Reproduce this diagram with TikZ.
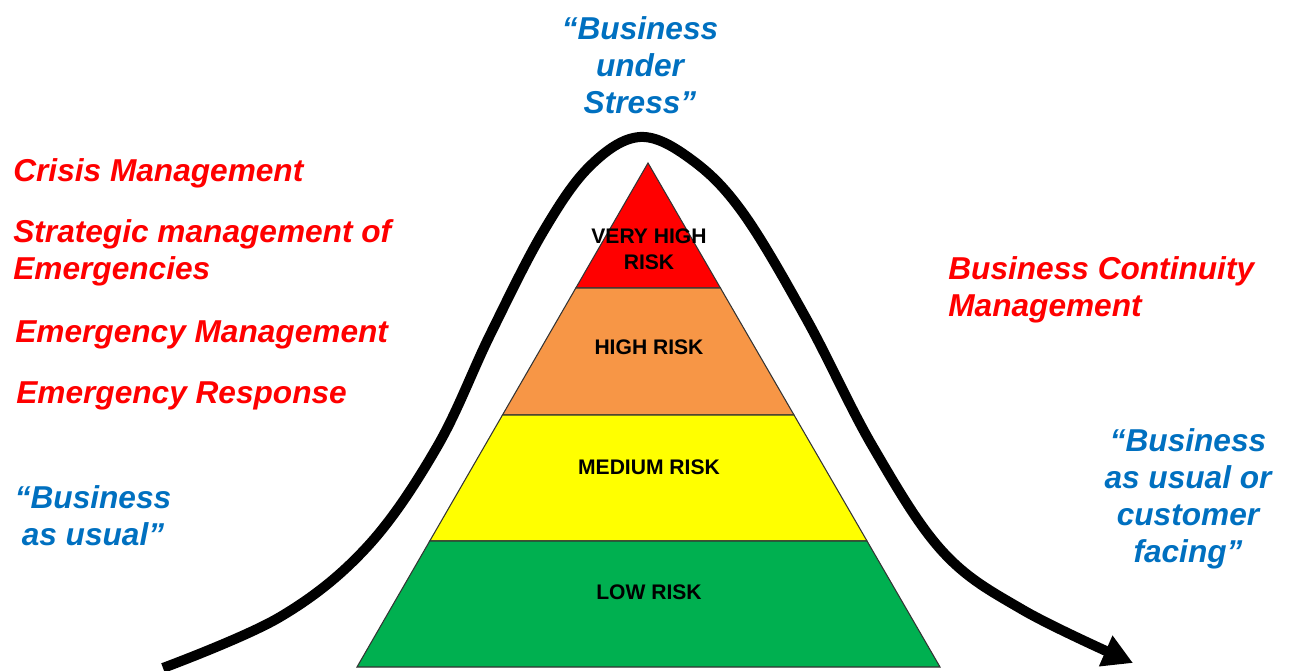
\documentclass[tikz,border=0pt]{standalone}
\usepackage{fontspec}
\setmainfont{Liberation Sans}
\usetikzlibrary{arrows.meta}
\definecolor{riskred}{HTML}{FF0000}
\definecolor{riskorange}{HTML}{F79646}
\definecolor{riskyellow}{HTML}{FFFF00}
\definecolor{riskgreen}{HTML}{00B050}
\definecolor{stressblue}{HTML}{0070C0}
\tikzset{
	redtext/.style={text=riskred,inner sep=0pt,align=left,font=\fontsize{18}{21}\selectfont\bfseries\itshape},
	bluetext/.style={text=stressblue,inner sep=0pt,align=center,font=\fontsize{18}{21}\selectfont\bfseries\itshape},
	risklabel/.style={inner sep=0pt,align=center,font=\fontsize{12}{14.7}\selectfont\bfseries}
}
\begin{document}
\begin{tikzpicture}[x=0.2mm,y=-0.2mm]
\useasboundingbox (0,0) rectangle (1290,671);
% pyramid tiers
\foreach \ytop/\ybot/\col in {163/288/riskred,288/415/riskorange,415/541/riskyellow,541/667/riskgreen}
{
	\filldraw[draw=black!80,line width=0.6pt,fill=\col] ({648-(\ytop-163)*0.5774},\ytop) -- ({648+(\ytop-163)*0.5794},\ytop) -- ({648+(\ybot-163)*0.5794},\ybot) -- ({648-(\ybot-163)*0.5774},\ybot) -- cycle; %
}
\node[risklabel] (vhigh) at (649,249) {VERY HIGH\\RISK};
\node[risklabel] (high) at (649,347) {HIGH RISK};
\node[risklabel] (medium) at (649,467) {MEDIUM RISK};
\node[risklabel] (low) at (649,592) {LOW RISK};
% stress curve
\draw[line width=5.7pt,-{Triangle[length=17pt,width=18pt]}] plot[smooth,tension=0.6] coordinates {(163,668) (280,617) (367,547) (437,447) (490,335) (543,232) (590,166) (640,137) (692,160) (743,213) (807,320) (873,447) (943,552) (1023,610) (1133,663)};
% texts
\node[bluetext] (stress) at (640,65) {``Business\\under\\Stress''};
\node[redtext,anchor=west] (crisis) at (13,173) {Crisis Management};
\node[redtext,anchor=west] (strategic) at (13,252.5) {Strategic management of\\Emergencies};
\node[redtext,anchor=west] (emgmgmt) at (15,335) {Emergency Management};
\node[redtext,anchor=west] (emgresp) at (16,396) {Emergency Response};
\node[bluetext] (usualL) at (93,515.5) {``Business\\as usual''};
\node[redtext,anchor=west] (bcm) at (948,289.5) {Business Continuity\\Management};
\node[bluetext] (usualR) at (1188,498.5) {``Business\\as usual or\\customer\\facing''};
\end{tikzpicture}
\end{document}
